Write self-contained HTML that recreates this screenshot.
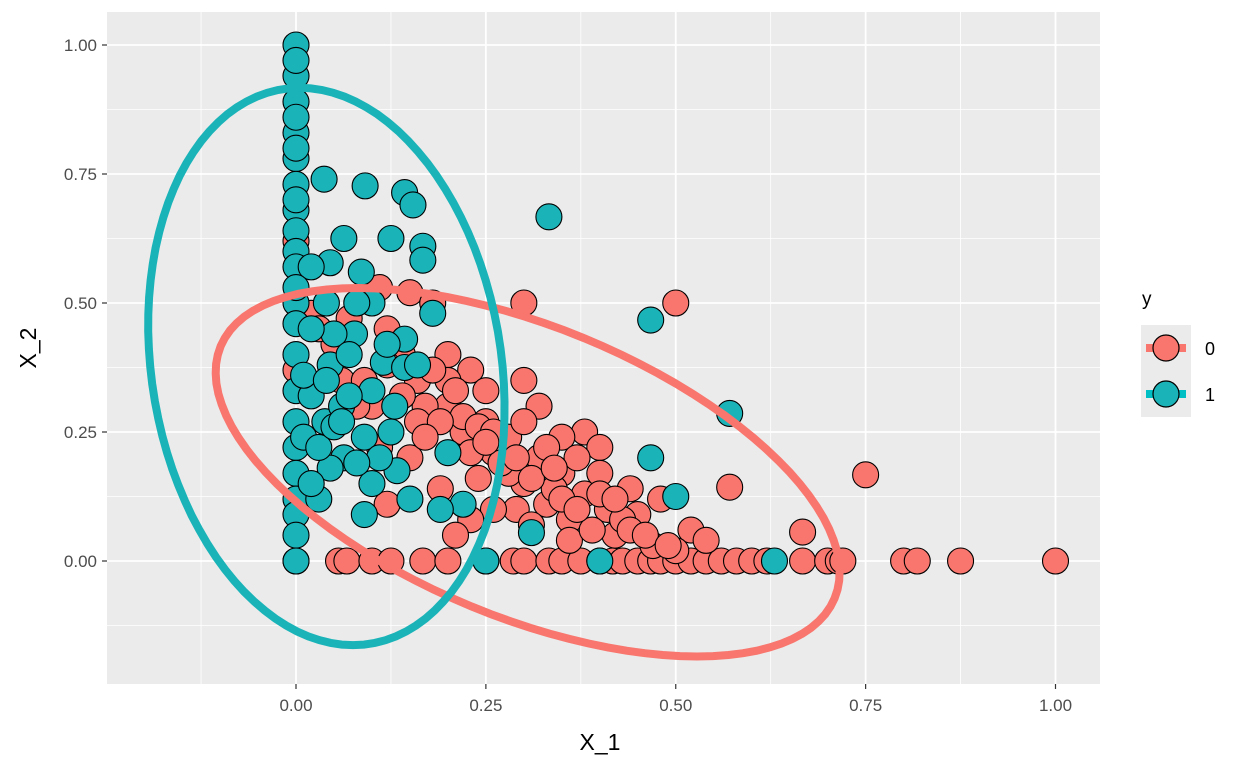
<!DOCTYPE html>
<html><head><meta charset="utf-8"><style>
body{margin:0;background:#fff;font-family:"Liberation Sans",sans-serif}
</style></head><body>
<svg id="chart" width="1248" height="768" xmlns="http://www.w3.org/2000/svg" font-family="Liberation Sans, sans-serif">
<rect x="107" y="12" width="993" height="672" fill="#ebebeb"/>
<g id="grid"></g>
<g id="ellipses"></g>
<g id="points"></g>
<g id="axes"></g>
<text x="600" y="750" font-size="23" text-anchor="middle" fill="#000">X_1</text>
<text transform="translate(36,348) rotate(-90)" font-size="23" text-anchor="middle" fill="#000">X_2</text>
<g>
<text x="1142" y="305" font-size="19">y</text>
<rect x="1141" y="325" width="50" height="46" fill="#ebebeb"/>
<rect x="1141" y="371" width="50" height="46" fill="#ebebeb"/>
<line x1="1146" y1="348" x2="1186" y2="348" stroke="#f8766d" stroke-width="8"/>
<circle cx="1166" cy="348" r="13" fill="#f8766d" stroke="#000" stroke-width="1.2"/>
<line x1="1146" y1="394" x2="1186" y2="394" stroke="#00bfc4" stroke-width="8"/>
<circle cx="1166" cy="394" r="13" fill="#1ab3b8" stroke="#000" stroke-width="1.2"/>
<text x="1205" y="355" font-size="18">0</text>
<text x="1205" y="401" font-size="18">1</text>
</g>
</svg>
<script>
const xTicks=[0,0.25,0.5,0.75,1.0];
const yTicks=[0,0.25,0.5,0.75,1.0];
const tickLabels=["0.00","0.25","0.50","0.75","1.00"];
const x0=[0.056,0.067,0.1,0.125,0.167,0.2,0.25,0.286,0.3,0.333,0.35,0.375,0.4,0.417,0.43,0.45,0.467,0.48,0.5,0.52,0.54,0.56,0.58,0.6,0.62,0.667,0.7,0.714,0.72,0.8,0.818,0.875,1.0,
0.3,0.5,0.75,0.571,0.667,0.11,0.15,0.18,0.2,0.23,0.3,0.32,0.25,0.38,0.4,0.35,0.44,0.48,0.52,0.45,0.42,0.47,0.5,0.54,0.36,0.33,0.3,0.28,0.26,0.22,0.2,0.16,0.17,0.13,0.1,0.12,0.25,0.27,0.29,0.35,0.38,0.4,0.41,0.43,0.32,0.37,0.26,0.23,0.21,0.19,0.15,0.12,0.24,0.28,0.34,0.2,0.14,0.11,0.36,0.31,0.39,0.0,0.0,0.02,0.06,0.08,0.16,
0.22,0.24,0.26,0.3,0.18,0.21,0.27,0.33,0.29,0.23,0.19,0.25,0.31,0.35,0.14,0.17,0.09,0.12,0.05,0.03,0.07,0.4,0.44,0.46,0.42,0.37,0.34,0.49];
const y0=[0,0,0,0,0,0,0,0,0,0,0,0,0,0,0,0,0,0,0,0,0,0,0,0,0,0,0,0,0,0,0,0,0,
0.5,0.5,0.167,0.143,0.056,0.53,0.52,0.5,0.4,0.37,0.35,0.3,0.33,0.25,0.22,0.24,0.14,0.12,0.06,0.09,0.05,0.03,0.02,0.04,0.08,0.11,0.15,0.17,0.21,0.25,0.3,0.35,0.3,0.3,0.3,0.45,0.27,0.22,0.1,0.17,0.13,0.17,0.1,0.08,0.2,0.2,0.1,0.08,0.05,0.14,0.2,0.11,0.16,0.24,0.14,0.35,0.4,0.22,0.04,0.07,0.06,0.62,0.37,0.48,0.35,0.3,0.27,
0.28,0.26,0.25,0.27,0.37,0.33,0.19,0.22,0.2,0.21,0.27,0.23,0.16,0.12,0.32,0.24,0.35,0.38,0.42,0.45,0.47,0.13,0.06,0.05,0.12,0.1,0.18,0.03];
const x1=[0,0,0,0,0,0,0,0,0,0,0,0,0,0,0,0,0,0,0,0,0,0,0.037,0.091,0.143,0.154,0.333,0.063,0.125,0.167,0.167,0.045,0.086,0.1,0.18,0.467,0.143,0.077,0.045,0.115,0.571,0.143,0.467,0.5,0.063,0.1,0.133,0.125,0.038,0.045,0.2,0.22,0.31,0.4,0.63,0.25,0.19,0.02,0.06,0.03,0.09,0.05,0.08,0.04,0.15,0.09,0.07,0.1,0.02,0.02,
0,0,0,0,0,0.01,0.01,0.03,0.05,0.07,0.11,0.13,0.08,0.06,0.02,0.04,0.12,0.16];
const y1=[1.0,0.94,0.89,0.83,0.78,0.73,0.68,0.64,0.6,0.57,0.5,0.46,0.4,0.33,0.27,0.22,0.17,0.12,0.09,0.05,0.0,0.0,0.74,0.727,0.714,0.69,0.667,0.625,0.625,0.61,0.583,0.578,0.56,0.5,0.48,0.467,0.43,0.44,0.38,0.385,0.286,0.375,0.2,0.125,0.2,0.15,0.175,0.25,0.27,0.18,0.21,0.11,0.055,0,0,0,0.1,0.32,0.3,0.12,0.09,0.44,0.5,0.5,0.12,0.24,0.4,0.33,0.45,0.57,
0.97,0.86,0.8,0.7,0.53,0.36,0.24,0.22,0.26,0.32,0.2,0.3,0.19,0.27,0.15,0.35,0.42,0.38];
const ellipseCenter0=[0.305,0.172], ellipseA0=[-0.223,0.357], ellipseB0=[0.345,0];
const ellipseCenter1=[0.04,0.377], ellipseA1=[-0.035,0.54], ellipseB1=[0.232,0];
const X=v=>296+v*759.5, Y=v=>561-v*516;
const NS="http://www.w3.org/2000/svg";
function mk(tag,parent,attrs){const e=document.createElementNS(NS,tag);for(const k in attrs)e.setAttribute(k,attrs[k]);parent.appendChild(e);return e;}
const grid=document.getElementById('grid'), axes=document.getElementById('axes');
for(let i=-1;i<xTicks.length;i++){const m=(i<0?xTicks[0]-0.125:xTicks[i]+0.125);
 if(X(m)>107&&X(m)<1100){const l=mk('line',grid,{x1:X(m),x2:X(m),y1:12,y2:684,stroke:'#fff','stroke-width':0.8});
 
 }}
for(let i=-1;i<yTicks.length;i++){const m=(i<0?yTicks[0]-0.125:yTicks[i]+0.125);
 if(Y(m)>12&&Y(m)<684){const l=mk('line',grid,{x1:107,x2:1100,y1:Y(m),y2:Y(m),stroke:'#fff','stroke-width':0.8});
 
 }}
xTicks.forEach((t,i)=>{const l=mk('line',grid,{x1:X(t),x2:X(t),y1:12,y2:684,stroke:'#fff','stroke-width':1.8});
 
 
 const tk=mk('line',axes,{x1:X(t),x2:X(t),y1:684,y2:689,stroke:'#333','stroke-width':1.2});
 
 
 const tx=mk('text',axes,{x:X(t),y:711,'font-size':17,'text-anchor':'middle',fill:'#4d4d4d'});tx.textContent=tickLabels[i];
 
 });
yTicks.forEach((t,i)=>{const l=mk('line',grid,{x1:107,x2:1100,y1:Y(t),y2:Y(t),stroke:'#fff','stroke-width':1.8});
 
 
 const tk=mk('line',axes,{x1:102,x2:107,y1:Y(t),y2:Y(t),stroke:'#333','stroke-width':1.2});
 
 
 const tx=mk('text',axes,{x:97,y:Y(t)+6,'font-size':17,'text-anchor':'end',fill:'#4d4d4d'});tx.textContent=tickLabels[i];
 
 });
const pts=document.getElementById('points');
function drawPts(xs,ys,fill,name){xs.forEach((v,i)=>{const c=mk('circle',pts,{cx:X(v),cy:Y(ys[i]),r:13,fill:fill,stroke:'#000','stroke-width':1.1});
 
 });}
drawPts(x0,y0,'#f8766d','point-class-0');
drawPts(x1,y1,'#1ab3b8','point-class-1');
const el=document.getElementById('ellipses');
function drawEll(C,A,B,col,name){let d='';for(let k=0;k<=100;k++){const t=k/100*2*Math.PI;
 const px=C[0]+A[0]*Math.cos(t)+B[0]*Math.sin(t), py=C[1]+A[1]*Math.cos(t)+B[1]*Math.sin(t);
 d+=(k?'L':'M')+X(px).toFixed(1)+','+Y(py).toFixed(1);}
 const p=mk('path',el,{d:d+'Z',fill:'none',stroke:col,'stroke-width':8});
 
 
 return p;}
drawEll(ellipseCenter0,ellipseA0,ellipseB0,'#f8766d','ellipse-class-0');
drawEll(ellipseCenter1,ellipseA1,ellipseB1,'#1ab3b8','ellipse-class-1');
pts.parentNode.appendChild(el);
</script>
</body></html>
